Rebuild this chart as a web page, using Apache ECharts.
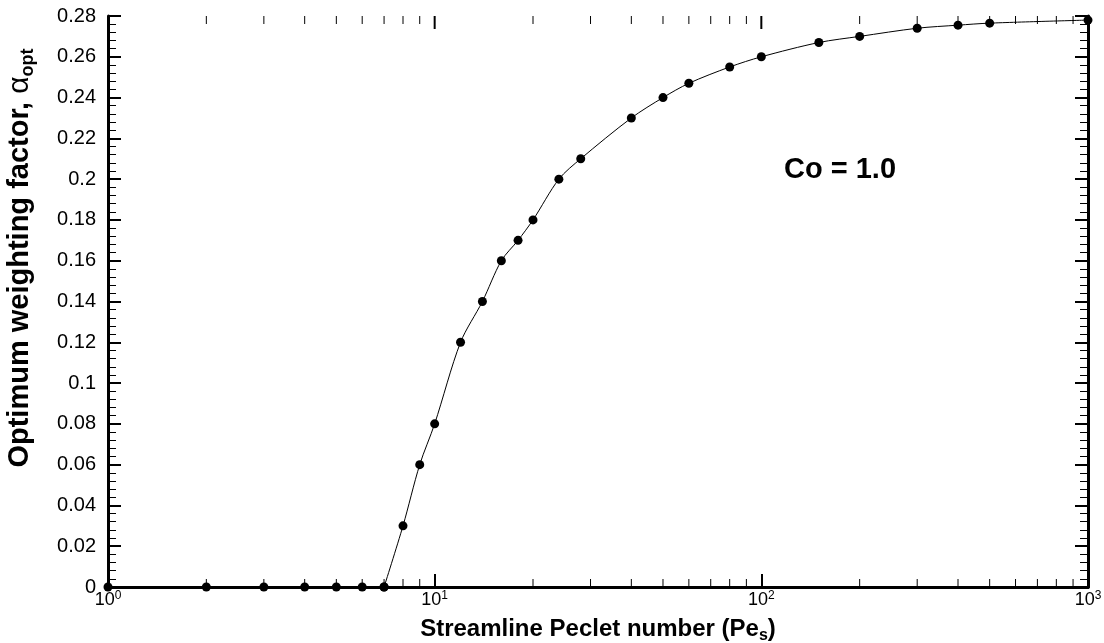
<!DOCTYPE html>
<html>
<head>
<meta charset="utf-8">
<script src="https://cdn.jsdelivr.net/npm/echarts@6/dist/echarts.min.js"></script>
<style>
  html, body { margin: 0; padding: 0; background: #fff; }
  #chart { width: 1104px; height: 643px; }
</style>
</head>
<body>
<div id="chart"></div>
<script>
// Streamline Peclet number samples and the optimum weighting factor at each
const peclet = [1, 2, 3, 4, 5, 6, 7, 8, 9, 10, 12, 14, 16, 18, 20, 24, 28, 40, 50, 60, 80, 100, 150, 200, 300, 400, 500, 1000];
const alphaOpt = [0, 0, 0, 0, 0, 0, 0, 0.03, 0.06, 0.08, 0.12, 0.14, 0.16, 0.17, 0.18, 0.20, 0.21, 0.23, 0.24, 0.247, 0.255, 0.26, 0.267, 0.27, 0.274, 0.2755, 0.2765, 0.278];

// Axis ranges and the decade ticks of the log axis
const xRange = [1, 1000];
const yRange = [0, 0.28];
const yStep = 0.02;
const decadeMajorTicks = [10, 100];
const decadeMinorTicks = [2, 3, 4, 5, 6, 7, 8, 9, 20, 30, 40, 50, 60, 70, 80, 90, 200, 300, 400, 500, 600, 700, 800, 900];

// Last sample where the factor is still zero; the curve rises from there
const onsetIndex = alphaOpt.lastIndexOf(0);

const FONT = '"Liberation Sans", Arial, sans-serif';
const chart = echarts.init(document.getElementById('chart'));

const points = peclet.map((p, i) => [p, alphaOpt[i]]);
const axisLine = { show: true, lineStyle: { color: '#000', width: 3 } };
const majorTick = { show: true, inside: true, length: 13, lineStyle: { color: '#000', width: 2 } };
const minorTick = { show: true, splitNumber: 5, length: 8, lineStyle: { color: '#000', width: 1 } };

chart.setOption({
  animation: false,
  backgroundColor: '#fff',
  grid: { left: 108, right: 16, top: 16, bottom: 56, containLabel: false, outerBoundsMode: 'none' },
  xAxis: [
    {
      type: 'log', logBase: 10, min: xRange[0], max: xRange[1],
      position: 'bottom',
      axisLine: axisLine,
      axisTick: majorTick,
      splitLine: { show: false },
      axisLabel: {
        margin: 3,
        formatter: v => '{b|10}{s|' + Math.round(Math.log10(v)) + '}',
        rich: {
          b: { fontFamily: FONT, fontSize: 18, color: '#000' },
          s: { fontFamily: FONT, fontSize: 12, color: '#000', verticalAlign: 'top', padding: [0, 0, 9, 0] }
        }
      },
      name: '{t|Streamline Peclet number (Pe}{sub|s}{t|)}',
      nameLocation: 'middle',
      nameGap: 27,
      nameTextStyle: {
        rich: {
          t: { fontFamily: FONT, fontSize: 24, fontWeight: 'bold', color: '#000' },
          sub: { fontFamily: FONT, fontSize: 16, fontWeight: 'bold', color: '#000', padding: [14, 0, 0, 0] }
        }
      }
    },
    {
      type: 'log', logBase: 10, min: xRange[0], max: xRange[1],
      position: 'top',
      axisLine: { show: true, lineStyle: { color: '#000', width: 2.5 } },
      axisTick: { show: false },
      axisLabel: { show: false },
      splitLine: { show: false }
    }
  ],
  yAxis: [
    {
      type: 'value', min: yRange[0], max: yRange[1], interval: yStep,
      position: 'left',
      axisLine: axisLine,
      axisTick: majorTick,
      minorTick: minorTick,
      splitLine: { show: false },
      axisLabel: { margin: 12, fontFamily: FONT, fontSize: 20, color: '#000' }
    },
    {
      type: 'value', min: yRange[0], max: yRange[1], interval: yStep,
      position: 'right',
      axisLine: axisLine,
      axisTick: majorTick,
      minorTick: minorTick,
      splitLine: { show: false },
      axisLabel: { show: false }
    }
  ],
  graphic: [
    {
      // vertical axis title
      type: 'text', x: 20, y: 258, rotation: Math.PI / 2,
      style: {
        text: '{t|Optimum weighting factor, }{a|α}{sub|opt}',
        align: 'center', verticalAlign: 'middle',
        rich: {
          t: { fontFamily: FONT, fontSize: 29, fontWeight: 'bold', fill: '#000' },
          a: { fontFamily: FONT, fontSize: 30, fill: '#000' },
          sub: { fontFamily: FONT, fontSize: 18, fontWeight: 'bold', fill: '#000', padding: [16, 0, 0, 0] }
        }
      }
    },
    {
      type: 'text', left: 784, top: 155,
      style: { text: 'Co = 1.0', font: 'bold 29px ' + FONT, fill: '#000' }
    }
  ],
  series: [
    {
      // decade ticks on the bottom and top log axes
      type: 'custom',
      xAxisIndex: 0, yAxisIndex: 0,
      silent: true,
      clip: false,
      z: 1,
      data: decadeMinorTicks.map(v => [v, 8]).concat(decadeMajorTicks.map(v => [v, 13])),
      renderItem: (params, api) => {
        const len = api.value(1);
        const bottom = api.coord([api.value(0), yRange[0]]);
        const top = api.coord([api.value(0), yRange[1]]);
        const style = { stroke: '#000', lineWidth: len > 10 ? 2 : 1 };
        const children = [
          { type: 'line', shape: { x1: top[0], y1: top[1], x2: top[0], y2: top[1] + len }, style }
        ];
        if (len < 10) {
          children.push({ type: 'line', shape: { x1: bottom[0], y1: bottom[1], x2: bottom[0], y2: bottom[1] - len }, style });
        }
        return { type: 'group', children };
      }
    },
    {
      // zero branch along the axis
      type: 'line',
      xAxisIndex: 0, yAxisIndex: 0,
      data: points.slice(0, onsetIndex + 1),
      clip: false,
      z: 5,
      symbol: 'circle',
      symbolSize: 9,
      itemStyle: { color: '#000' },
      lineStyle: { color: '#000', width: 1 }
    },
    {
      // rising branch
      type: 'line',
      xAxisIndex: 0, yAxisIndex: 0,
      data: points.slice(onsetIndex),
      clip: false,
      z: 5,
      smooth: 0.3,
      symbol: 'circle',
      symbolSize: 9,
      itemStyle: { color: '#000' },
      lineStyle: { color: '#000', width: 1 }
    }
  ]
});
</script>
</body>
</html>
